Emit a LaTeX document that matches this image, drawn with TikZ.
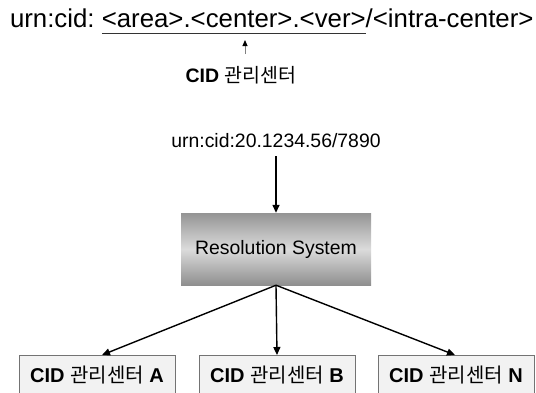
\documentclass[tikz,border=0pt]{standalone}
\usepackage{fontspec}
\setmainfont{Liberation Sans}
\newfontfamily\kr{Noto Sans CJK KR}
\usetikzlibrary{arrows.meta}

\tikzset{
  plain/.style={inner sep=0pt, outer sep=0pt},
  urnfont/.style={font=\fontsize{25.8}{30}\selectfont},
  conn/.style={line width=1.4pt, -{Triangle[length=8pt,width=7pt]}},
  resolver/.style={minimum width=190pt, minimum height=72pt, inner sep=0pt,
    top color=black!42, bottom color=black!44, middle color=black!14,
    font=\fontsize{19.4}{22}\selectfont},
  center/.style={draw=black!55, line width=0.8pt, fill=black!5,
    minimum width=156pt, minimum height=40pt, inner sep=0pt,
    font=\fontsize{20}{22}\selectfont},
}

\begin{document}
\begin{tikzpicture}[x=1pt, y=-1pt]
  \useasboundingbox (0,0) rectangle (536,392);
  \clip (0,0) rectangle (536,392);

  % URN syntax line
  \node[plain, anchor=base west, urnfont] (p1) at (10,27) {urn:cid:\hspace*{0.278em}};
  \node[plain, anchor=base west, urnfont] (p2) at (p1.base east) {<area>.<center>.<ver>};
  \node[plain, anchor=base west, urnfont] (p3) at (p2.base east) {/<intra-center>};
  \draw[line width=1pt, black!80] ([yshift=-6.5pt]p2.base west) coordinate (ul1) -- ([yshift=-6.5pt]p2.base east) coordinate (ul2);

  % pointer to the center part
  \node[plain, font=\fontsize{19.5}{22}\selectfont] (lbl) at (241,75) {\bfseries CID {\mdseries\kr 관리센터}};
  \coordinate (ptail) at (245,54);
  \coordinate (phead) at (245,40);
  \draw[line width=0.9pt, black!50, -{Triangle[length=6pt,width=5pt,fill=black,color=black]}] (ptail) -- (phead);

  % example identifier and resolution system
  \node[plain, font=\fontsize{19.4}{22}\selectfont] (urn) at (276,141) {urn:cid:20.1234.56/7890};
  \node[resolver] (rs) at (276,249) {Resolution System};
  \draw[conn] ([yshift=-8pt]urn.south) -- (rs.north);

  % management centers
  \node[center, anchor=north] (ca) at (97,355) {\bfseries CID {\mdseries\kr 관리센터} A};
  \node[center, anchor=north] (cb) at (277,355) {\bfseries CID {\mdseries\kr 관리센터} B};
  \node[center, anchor=north] (cn) at (456,355) {\bfseries CID {\mdseries\kr 관리센터} N};

  \draw[conn] (rs.south) -- ([xshift=5pt]ca.north);
  \draw[conn] (rs.south) -- (cb.north);
  \draw[conn] (rs.south) -- ([xshift=-1pt]cn.north);
\end{tikzpicture}
\end{document}
